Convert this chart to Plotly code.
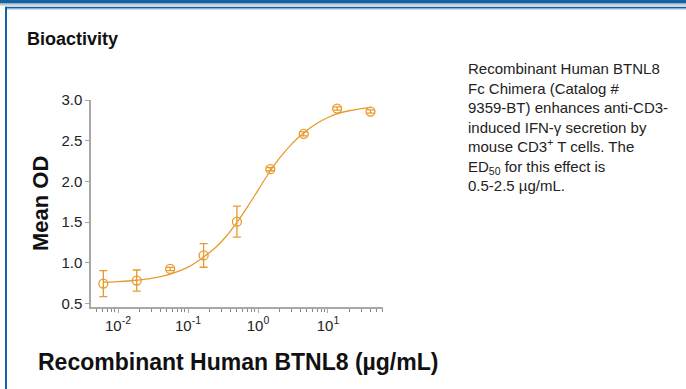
import plotly.graph_objects as go

# data
conc = [0.00617, 0.0185, 0.0556, 0.167, 0.5, 1.5, 4.5, 13.5, 40.5]
mean_od = [0.743, 0.780, 0.923, 1.089, 1.504, 2.150, 2.583, 2.895, 2.858]
err = [0.16, 0.13, 0.02, 0.145, 0.19, 0.02, 0.025, 0.02, 0.02]

fit_x = [0.00617, 0.01, 0.0185, 0.03, 0.0556, 0.1, 0.167, 0.25, 0.35, 0.5, 0.7,
         1.0, 1.5, 2.0, 3.0, 4.5, 7, 10, 13.5, 20, 30, 40.5]
fit_y = [0.761, 0.768, 0.784, 0.806, 0.860, 0.945, 1.070, 1.190, 1.322, 1.495, 1.680,
         1.890, 2.130, 2.280, 2.455, 2.597, 2.715, 2.785, 2.830, 2.868, 2.895, 2.910]

xtick_vals = [0.01, 0.1, 1, 10]
xtick_text = ["10<sup>-2</sup>", "10<sup>-1</sup>", "10<sup>0</sup>", "10<sup>1</sup>"]
ytick_vals = [0.5, 1.0, 1.5, 2.0, 2.5, 3.0]
ytick_text = ["0.5", "1.0", "1.5", "2.0", "2.5", "3.0"]

side_text = ("Recombinant Human BTNL8<br>Fc Chimera (Catalog #<br>9359-BT) enhances anti-CD3-<br>"
             "induced IFN-γ secretion by<br>mouse CD3<sup>+</sup> T cells. The<br>"
             "ED<sub>50</sub> for this effect is<br>0.5-2.5 µg/mL.")

ORANGE = "#E99A2C"
AXIS = "#A8A8A8"
NARROW = "Liberation Sans Narrow, Arial Narrow, sans-serif"
SANS = "Liberation Sans, Arial, sans-serif"

W, H = 686, 389
L, R, T, B = 91, 303, 100, 82
pw, ph = W - L - R, H - T - B

def px(x):
    return (x - L) / pw

def py(y):
    return (H - B - y) / ph

fig = go.Figure()
fig.add_trace(go.Scatter(x=fit_x, y=fit_y, mode="lines",
                         line=dict(color=ORANGE, width=1.3, shape="spline"),
                         hoverinfo="skip", showlegend=False))
fig.add_trace(go.Scatter(x=conc, y=mean_od, mode="markers",
                         marker=dict(symbol="circle-open", size=9, color=ORANGE, line=dict(width=1.3, color=ORANGE)),
                         error_y=dict(type="data", array=err, visible=True, color=ORANGE, thickness=1.3, width=4),
                         showlegend=False))

fig.update_xaxes(type="log", range=[-2.386, 1.786], tickmode="array", tickvals=xtick_vals, ticktext=xtick_text,
                 showline=True, linecolor=AXIS, linewidth=1.5, ticks="outside", ticklen=4, tickcolor=AXIS,
                 showgrid=False, zeroline=False, tickfont=dict(family=NARROW, size=15, color="#222"),
                 minor=dict(ticks="outside", ticklen=3, tickwidth=1, tickcolor="#888", dtick="D1", showgrid=False))
fig.update_yaxes(range=[0.455, 3.0], tickmode="array", tickvals=ytick_vals, ticktext=ytick_text,
                 showline=True, linecolor=AXIS, linewidth=1.5, ticks="outside", ticklen=4, tickcolor=AXIS,
                 showgrid=False, zeroline=False, tickfont=dict(family=NARROW, size=15, color="#222"))

shapes = [
    dict(type="rect", xref="paper", yref="paper", x0=px(0), x1=px(W), y0=py(0), y1=py(3.5),
         fillcolor="#1461A3", line=dict(width=0)),
    dict(type="rect", xref="paper", yref="paper", x0=px(0), x1=px(W), y0=py(4.2), y1=py(5.6),
         fillcolor="#B5B5B5", line=dict(width=0)),
    dict(type="rect", xref="paper", yref="paper", x0=px(5), x1=px(W), y0=py(6.8), y1=py(8.6),
         fillcolor="#1461A3", line=dict(width=0)),
    dict(type="rect", xref="paper", yref="paper", x0=px(5), x1=px(W), y0=py(8.6), y1=py(9.6),
         fillcolor="#8DB4DA", line=dict(width=0)),
    dict(type="rect", xref="paper", yref="paper", x0=px(5), x1=px(7), y0=py(6.8), y1=py(H),
         fillcolor="#1461A3", line=dict(width=0)),
]

annotations = [
    dict(text="<b>Bioactivity</b>", xref="paper", yref="paper", x=px(25), y=py(39), xanchor="left", yanchor="middle",
         showarrow=False, font=dict(family=SANS, size=18, color="#111")),
    dict(text="<b>Mean OD</b>", xref="paper", yref="paper", x=px(40), y=py(204), xanchor="center", yanchor="middle",
         textangle=-90, showarrow=False, font=dict(family=SANS, size=22, color="#111")),
    dict(text="<b>Recombinant Human BTNL8 (µg/mL)</b>", xref="paper", yref="paper", x=px(36), y=py(362),
         xanchor="left", yanchor="middle", showarrow=False,
         font=dict(family=SANS, size=23, color="#111")),
    dict(text=side_text, xref="paper", yref="paper", x=px(466), y=py(58), xanchor="left", yanchor="top",
         align="left", showarrow=False,
         font=dict(family=SANS, size=15, color="#222")),
]

fig.update_layout(width=W, height=H, margin=dict(l=L, r=R, t=T, b=B, pad=0),
                  paper_bgcolor="white", plot_bgcolor="white",
                  shapes=shapes, annotations=annotations, showlegend=False)

fig.write_html("out.html", config={"displayModeBar": False},
               post_script="document.body.style.margin='0';")
